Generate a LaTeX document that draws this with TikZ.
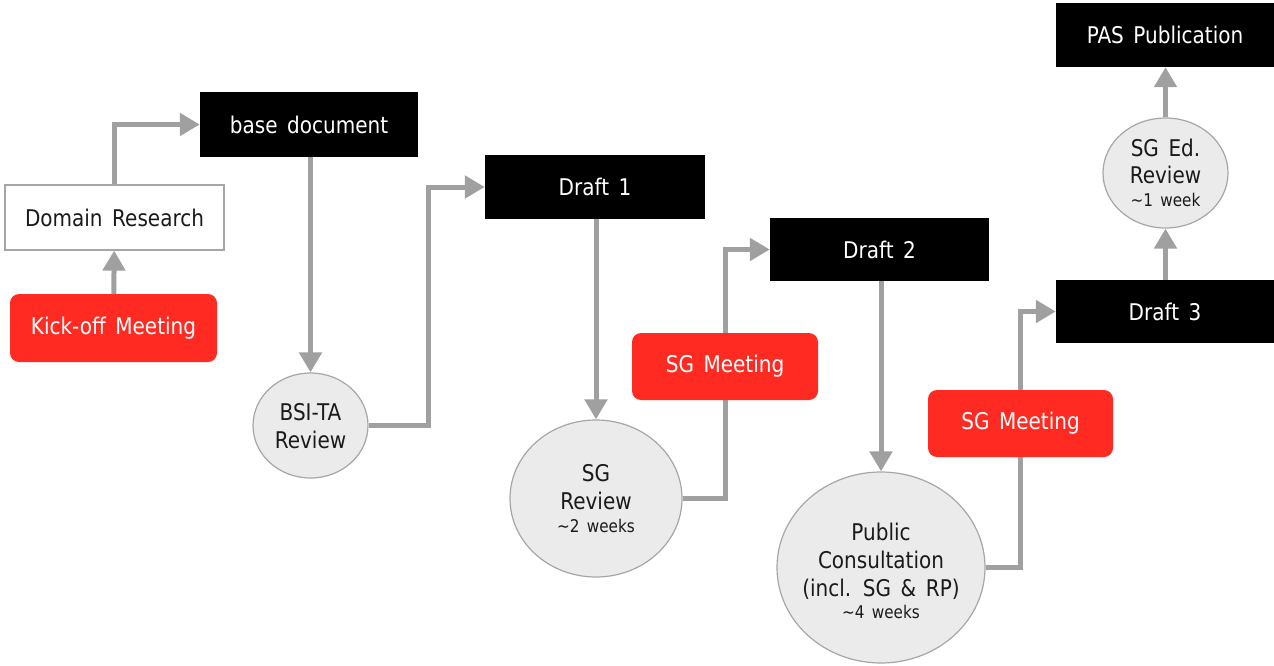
\documentclass[tikz,border=0pt]{standalone}
\usepackage{fontspec}
\setmainfont{DejaVu Sans}[FakeStretch=0.87, WordSpace=1.5]
\usetikzlibrary{arrows.meta,backgrounds,shapes.geometric}
\definecolor{meetred}{HTML}{FF2B22}
\definecolor{linegray}{HTML}{A0A0A0}
\definecolor{revfill}{HTML}{EBEBEB}
\definecolor{revline}{HTML}{A6A6A6}
\definecolor{inktext}{HTML}{1A1A1A}
\newcommand{\wk}[1]{{\fontsize{17.5}{19}\selectfont\textasciitilde#1}}
\begin{document}
\begin{tikzpicture}[x=1pt,y=-1pt,
  txt/.style={font=\fontsize{23}{28}\selectfont, align=center},
  docbox/.style={txt, fill=black, text=white, inner sep=0pt},
  meetbox/.style={txt, fill=meetred, text=white, rounded corners=9pt, inner sep=0pt},
  plainbox/.style={txt, draw=revline, line width=1.2pt, fill=white, text=inktext, inner sep=0pt},
  review/.style={ellipse, draw=revline, line width=1.2pt, fill=revfill, inner sep=0pt},
  revtext/.style={txt, text=inktext},
  conn/.style={draw=linegray, line width=5pt, -{Triangle[length=20pt,width=22pt]}}
]
\useasboundingbox (0,0) rectangle (1274,666);

% process steps
\node[plainbox, minimum width=219pt, minimum height=65pt] (dr) at (114.5,217.5) {Domain Research};
\node[meetbox, minimum width=207pt, minimum height=68pt] (kick) at (113.5,328) {Kick-off Meeting};
\node[docbox, minimum width=218pt, minimum height=65pt] (bd) at (309,124.5) {base document};
\node[review, minimum width=115pt, minimum height=105pt,
      label={[revtext, yshift=-1pt]center:{BSI-TA\\Review}}] (bsi) at (310.5,425.5) {};
\node[docbox, minimum width=220pt, minimum height=64pt] (d1) at (595,187) {Draft 1};
\node[review, minimum width=172pt, minimum height=157pt,
      label={[revtext]center:{SG\\Review\\[-5pt]\wk{2 weeks}}}] (sgr) at (596,498.5) {};
\node[meetbox, minimum width=186pt, minimum height=67pt] (sgm1) at (725,366.5) {SG Meeting};
\node[docbox, minimum width=219pt, minimum height=63pt] (d2) at (879.5,249.5) {Draft 2};
\node[review, minimum width=208pt, minimum height=191pt,
      label={[revtext, yshift=-3pt]center:{Public\\Consultation\\(incl. SG \& RP)\\[-6pt]\wk{4 weeks}}}] (pc) at (881,567.5) {};
\node[meetbox, minimum width=185pt, minimum height=67pt] (sgm2) at (1020.5,423.5) {SG Meeting};
\node[docbox, minimum width=218pt, minimum height=63pt] (d3) at (1165,311.5) {Draft 3};
\node[review, minimum width=125pt, minimum height=110pt,
      label={[revtext, font=\fontsize{23}{27}\selectfont]center:{SG Ed.\\Review\\[-4pt]\wk{1 week}}}] (sge) at (1165.5,173) {};
\node[docbox, minimum width=218pt, minimum height=64pt] (pas) at (1165,35) {PAS Publication};

% flow connectors, kept behind the boxes
\begin{scope}[on background layer]
  \draw[conn] (kick) -- (dr);
  \draw[conn] (dr.north) |- (bd.west);
  \draw[conn] (bd.south -| bsi.north) -- (bsi.north);
  \draw[conn] (bsi.east) -- ++(60,0) |- (d1.west);
  \draw[conn] (d1.south -| sgr.north) -- (sgr.north);
  \draw[conn] (sgr.east) -| (sgm1.center) |- (d2.west);
  \draw[conn] (d2.south -| pc.north) -- (pc.north);
  \draw[conn] (pc.east) -| (sgm2.center) |- (d3.west);
  \draw[conn] (d3.north -| sge.south) -- (sge.south);
  \draw[conn] (sge.north) -- (pas.south -| sge.north);
\end{scope}
\end{tikzpicture}
\end{document}
